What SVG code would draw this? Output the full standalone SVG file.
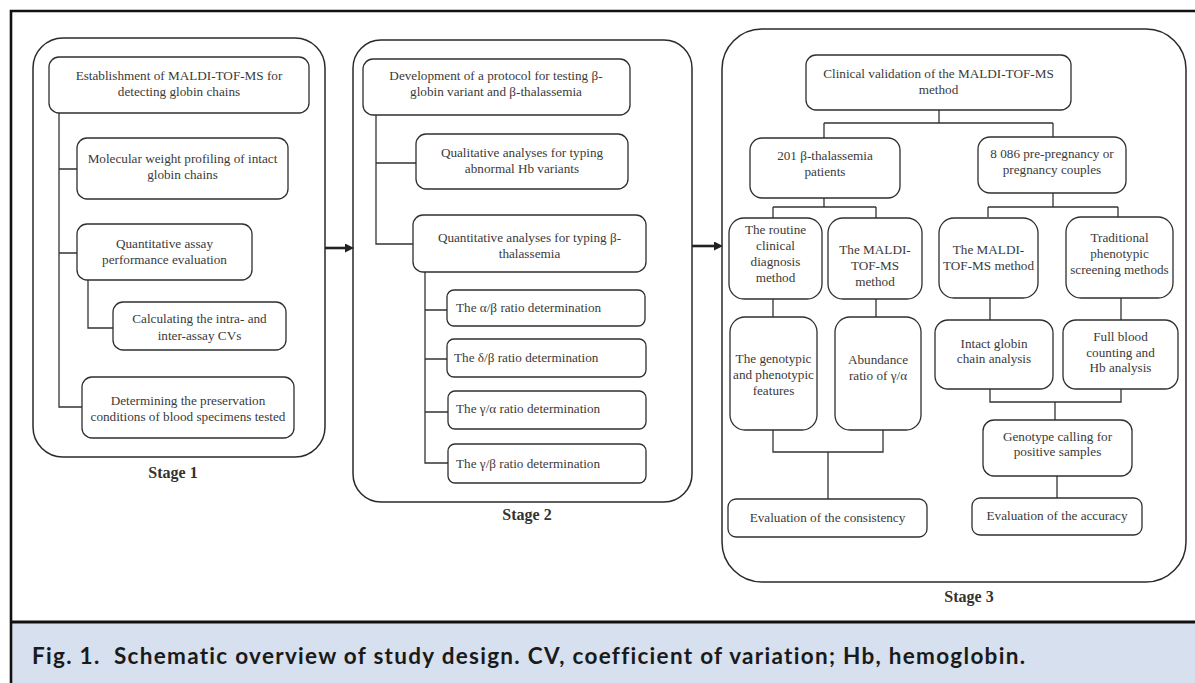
<svg xmlns="http://www.w3.org/2000/svg" width="1195" height="683" viewBox="0 0 1195 683">
<defs>
<style>
.stage{fill:#fff;stroke:#2a2a2a;stroke-width:1.5}
.box{fill:#fff;stroke:#2f2f2f;stroke-width:1.3}
.t{font-family:"Liberation Serif","Times New Roman",serif;font-size:13.2px;fill:#3a3a3a;text-anchor:middle}
.tl{font-family:"Liberation Serif","Times New Roman",serif;font-size:13.2px;fill:#3a3a3a;text-anchor:start}
.lab{font-family:"Liberation Serif","Times New Roman",serif;font-size:16px;font-weight:bold;fill:#333;text-anchor:middle}
.con{fill:none;stroke:#333;stroke-width:1.3}
.arr{fill:none;stroke:#222;stroke-width:2.6}
.cap{font-family:Lato,"Open Sans",sans-serif;font-size:22.5px;font-weight:bold;fill:#1a1a1a;font-variant-ligatures:none}
</style>
<marker id="ah" viewBox="0 0 10 10" refX="0" refY="5" markerWidth="9" markerHeight="9" markerUnits="userSpaceOnUse" orient="auto">
<path d="M0,0 L10,5 L0,10 z" fill="#222"/>
</marker>
</defs>
<rect x="0" y="0" width="1195" height="683" fill="#fff"/>
<g id="frame">
<rect x="11" y="623" width="1184" height="60" fill="#d6e0ee"/>
<path d="M11,683 V11 H1195" fill="none" stroke="#111" stroke-width="2.6"/>
<path d="M11,622 H1195" fill="none" stroke="#111" stroke-width="3"/>
<text class="cap" x="32" y="664" xml:space="preserve" textLength="993" lengthAdjust="spacing">Fig. 1.  Schematic overview of study design. CV, coefficient of variation; Hb, hemoglobin.</text>
</g>
<g id="stage1">
<rect class="stage" x="33" y="38" width="292" height="419" rx="30"/>
<text class="lab" x="173" y="478">Stage 1</text>
</g>
<g id="stage2">
<rect class="stage" x="353" y="40" width="339" height="462" rx="28"/>
<text class="lab" x="527" y="520">Stage 2</text>
</g>
<g id="stage3">
<rect class="stage" x="722" y="29" width="464" height="553" rx="40"/>
<text class="lab" x="969" y="602">Stage 3</text>
</g>
<g id="connectors">
<path class="con" d="M59,113 V407 H82 M59,169 H77 M59,253 H77 M88,280 V328 H113"/>
<path class="con" d="M376,115 V244 H413 M376,163 H416 M425,272 V463 H448 M425,310 H447 M425,359 H447 M425,412 H448"/>
<path class="con" d="M939,110 V123 M824,123 H1053 M824,123 V138 M1053,123 V137 M824,198 V207 M773,207 H876 M773,207 V218 M876,207 V218 M1053,193 V207 M988,207 H1118 M988,207 V217 M1118,207 V217 M773,299 V317 M876,299 V317 M773,430 V452 H883 V430 M828,452 V499 M990,298 V320 M1121,298 V320 M990,389 V402 H1121 V389 M1055,402 V420 M1057,476 V498"/>
<path class="arr" d="M325,248 H345" marker-end="url(#ah)"/>
<path class="arr" d="M692,246 H714" marker-end="url(#ah)"/>
</g>
<g id="n-establish">
<rect class="box" x="49" y="57" width="260" height="56" rx="10"/>
<text class="t" x="179" y="80">Establishment of MALDI-TOF-MS for</text>
<text class="t" x="179" y="96">detecting globin chains</text>
</g>
<g id="n-mw">
<rect class="box" x="77" y="138" width="211" height="61" rx="10"/>
<text class="t" x="182.5" y="163">Molecular weight profiling of intact</text>
<text class="t" x="182.5" y="179">globin chains</text>
</g>
<g id="n-quant-assay">
<rect class="box" x="77" y="224" width="175" height="56" rx="10"/>
<text class="t" x="164.5" y="248">Quantitative assay</text>
<text class="t" x="164.5" y="264">performance evaluation</text>
</g>
<g id="n-cv">
<rect class="box" x="113" y="302" width="173" height="48" rx="10"/>
<text class="t" x="199.5" y="323">Calculating the intra- and</text>
<text class="t" x="199.5" y="340">inter-assay CVs</text>
</g>
<g id="n-preserve">
<rect class="box" x="82" y="377" width="212" height="61" rx="10"/>
<text class="t" x="188" y="405">Determining the preservation</text>
<text class="t" x="188" y="421">conditions of blood specimens tested</text>
</g>
<g id="n-protocol">
<rect class="box" x="363" y="59" width="267" height="56" rx="10"/>
<text class="t" x="496" y="80">Development of a protocol for testing β-</text>
<text class="t" x="496" y="96">globin variant and β-thalassemia</text>
</g>
<g id="n-qual">
<rect class="box" x="416" y="134" width="212" height="55" rx="10"/>
<text class="t" x="522" y="157">Qualitative analyses for typing</text>
<text class="t" x="522" y="173">abnormal Hb variants</text>
</g>
<g id="n-quant">
<rect class="box" x="413" y="215" width="233" height="57" rx="10"/>
<text class="t" x="529.5" y="242">Quantitative analyses for typing β-</text>
<text class="t" x="529.5" y="258">thalassemia</text>
</g>
<g id="n-ab">
<rect class="box" x="447" y="290" width="198" height="36" rx="7"/>
<text class="tl" x="456" y="312">The α/β ratio determination</text>
</g>
<g id="n-db">
<rect class="box" x="447" y="339" width="199" height="38" rx="7"/>
<text class="tl" x="454" y="362">The δ/β ratio determination</text>
</g>
<g id="n-ga">
<rect class="box" x="448" y="391" width="198" height="38" rx="7"/>
<text class="tl" x="456" y="413">The γ/α ratio determination</text>
</g>
<g id="n-gb">
<rect class="box" x="448" y="444" width="198" height="39" rx="7"/>
<text class="tl" x="456" y="468">The γ/β ratio determination</text>
</g>
<g id="n-clinical">
<rect class="box" x="806" y="55" width="265" height="55" rx="10"/>
<text class="t" x="938.5" y="78">Clinical validation of the MALDI-TOF-MS</text>
<text class="t" x="938.5" y="94">method</text>
</g>
<g id="n-201">
<rect class="box" x="750" y="138" width="150" height="60" rx="12"/>
<text class="t" x="825" y="160">201 β-thalassemia</text>
<text class="t" x="825" y="176">patients</text>
</g>
<g id="n-8086">
<rect class="box" x="978" y="137" width="148" height="56" rx="12"/>
<text class="t" x="1052" y="158">8 086 pre-pregnancy or</text>
<text class="t" x="1052" y="174">pregnancy couples</text>
</g>
<g id="n-routine">
<rect class="box" x="729" y="218" width="93" height="81" rx="15"/>
<text class="t" x="775.5" y="234">The routine</text>
<text class="t" x="775.5" y="250">clinical</text>
<text class="t" x="775.5" y="266">diagnosis</text>
<text class="t" x="775.5" y="282">method</text>
</g>
<g id="n-maldi1">
<rect class="box" x="828" y="218" width="94" height="81" rx="15"/>
<text class="t" x="875" y="254">The MALDI-</text>
<text class="t" x="875" y="270">TOF-MS</text>
<text class="t" x="875" y="286">method</text>
</g>
<g id="n-maldi2">
<rect class="box" x="939" y="218" width="99" height="80" rx="15"/>
<text class="t" x="988.5" y="254">The MALDI-</text>
<text class="t" x="988.5" y="270">TOF-MS method</text>
</g>
<g id="n-traditional">
<rect class="box" x="1066" y="217" width="107" height="81" rx="15"/>
<text class="t" x="1119.5" y="242">Traditional</text>
<text class="t" x="1119.5" y="258">phenotypic</text>
<text class="t" x="1119.5" y="274">screening methods</text>
</g>
<g id="n-genotypic">
<rect class="box" x="730" y="317" width="87" height="113" rx="15"/>
<text class="t" x="773.5" y="363">The genotypic</text>
<text class="t" x="773.5" y="379">and phenotypic</text>
<text class="t" x="773.5" y="395">features</text>
</g>
<g id="n-abundance">
<rect class="box" x="835" y="317" width="86" height="113" rx="15"/>
<text class="t" x="878" y="364">Abundance</text>
<text class="t" x="878" y="380">ratio of γ/α</text>
</g>
<g id="n-intact">
<rect class="box" x="935" y="320" width="118" height="69" rx="13"/>
<text class="t" x="994" y="348">Intact globin</text>
<text class="t" x="994" y="363">chain analysis</text>
</g>
<g id="n-fullblood">
<rect class="box" x="1063" y="320" width="115" height="69" rx="13"/>
<text class="t" x="1120.5" y="341">Full blood</text>
<text class="t" x="1120.5" y="357">counting and</text>
<text class="t" x="1120.5" y="372">Hb analysis</text>
</g>
<g id="n-genotype-calling">
<rect class="box" x="983" y="420" width="149" height="56" rx="11"/>
<text class="t" x="1057.5" y="441">Genotype calling for</text>
<text class="t" x="1057.5" y="456">positive samples</text>
</g>
<g id="n-consistency">
<rect class="box" x="728" y="499" width="199" height="38" rx="8"/>
<text class="t" x="827.5" y="522">Evaluation of the consistency</text>
</g>
<g id="n-accuracy">
<rect class="box" x="972" y="498" width="170" height="37" rx="8"/>
<text class="t" x="1057" y="520">Evaluation of the accuracy</text>
</g>
</svg>
